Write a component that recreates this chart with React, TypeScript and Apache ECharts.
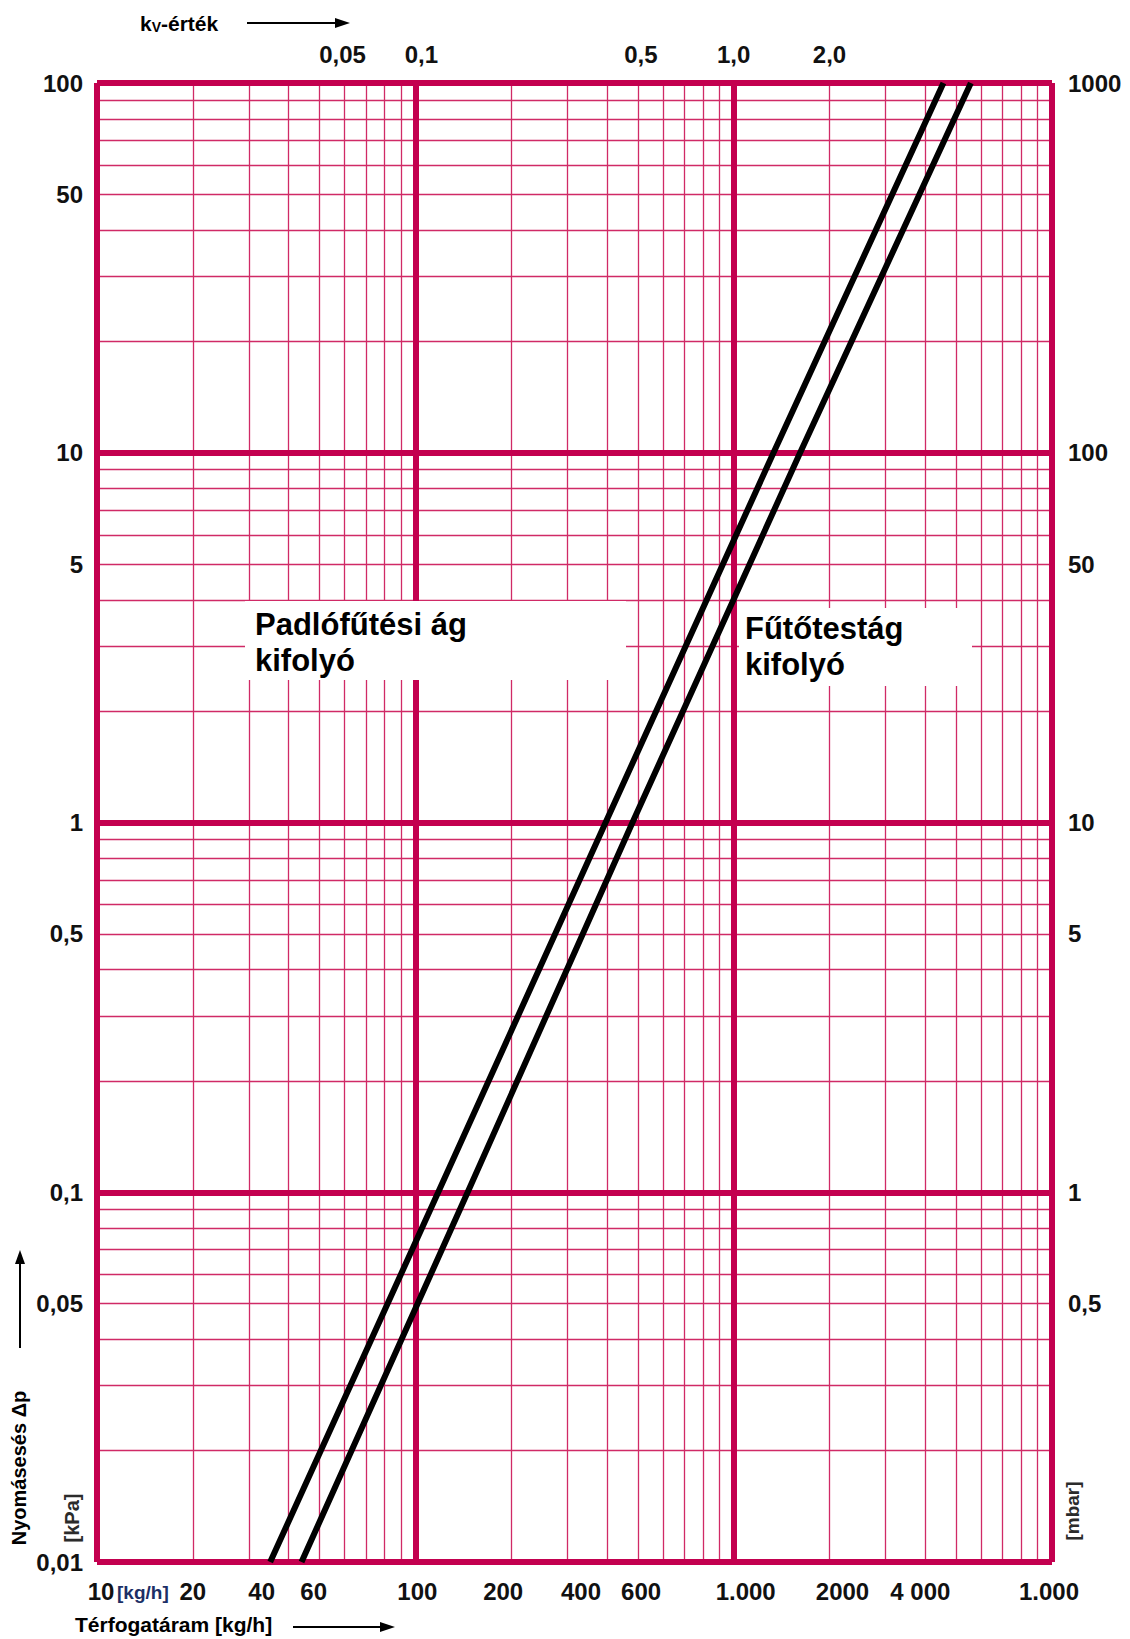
import React, { useEffect, useRef } from 'react';
import * as echarts from 'echarts';

// Tick values and their printed labels
const FLOW_TICKS = [10, 20, 40, 60, 100, 200, 400, 600, 1000, 2000, 4000, 10000];
const FLOW_LABELS = ['10', '20', '40', '60', '100', '200', '400', '600', '1.000', '2000', '4 000', '1.000'];
const KV_TICKS = [0.05, 0.1, 0.5, 1, 2];
const KV_LABELS = ['0,05', '0,1', '0,5', '1,0', '2,0'];
const KPA_TICKS = [0.01, 0.05, 0.1, 0.5, 1, 5, 10, 50, 100];
const KPA_LABELS = ['0,01', '0,05', '0,1', '0,5', '1', '5', '10', '50', '100'];
const MBAR_TICKS = [0.5, 1, 5, 10, 50, 100, 1000];
const MBAR_LABELS = ['0,5', '1', '5', '10', '50', '100', '1000'];

// Curves (flow kg/h vs pressure drop kPa)
const PADLO_FLOW = [35, 118, 396, 1334, 4560];
const PADLO_DP = [0.01, 0.1, 1, 10, 100];
const FUTO_FLOW = [43.9, 146, 481, 1617, 5560];
const FUTO_DP = [0.01, 0.1, 1, 10, 100];

// Grid line values
const X_DECADES = [10, 100, 1000];
const Y_DECADES = [0.01, 0.1, 1, 10];
const MINOR_STEPS = [2, 3, 4, 5, 6, 7, 8, 9];
const X_MAJOR = [10, 100, 1000, 10000];
const Y_MAJOR = [0.01, 0.1, 1, 10, 100];

// Styling: horizontal nudges (px) of printed tick labels, as in the original print
const FLOW_LABEL_NUDGE = [4, 0, -27, -31, 2, -8, -26, -22, 12, 13, -5, -3];
const KV_LABEL_NUDGE = [23, 6, 3, 0, 0];

const THICK = '#c3004f';
const THIN = '#d02a66';
const FONT = '"Liberation Sans", Arial, sans-serif';

function makeFormatter(ticks: number[], labels: string[], nudge?: number[]) {
  return (v: number) => {
    for (let i = 0; i < ticks.length; i++) {
      if (Math.abs(Math.log10(v) - Math.log10(ticks[i])) < 1e-6) {
        return nudge ? `{n${i}|${labels[i]}}` : labels[i];
      }
    }
    return '';
  };
}

function makeRich(nudge: number[], base: any) {
  const rich: any = {};
  nudge.forEach((s, i) => {
    const pad = s >= 0 ? [0, 0, 0, 2 * s] : [0, -2 * s, 0, 0];
    rich[`n${i}`] = { ...base, padding: pad };
  });
  return rich;
}

export default function App() {
  const ref = useRef<HTMLDivElement>(null);

  useEffect(() => {
    if (!ref.current) return;
    const chart = echarts.init(ref.current, null, { renderer: 'svg' });

    const minorX: number[] = [];
    X_DECADES.forEach((d) => MINOR_STEPS.forEach((m) => minorX.push(d * m)));
    const minorY: number[] = [];
    Y_DECADES.forEach((d) => MINOR_STEPS.forEach((m) => minorY.push(+(d * m).toPrecision(6))));

    const thinStyle = { color: THIN, width: 1.3, type: 'solid' as const };
    const thickStyle = { color: THICK, width: 6, type: 'solid' as const };

    const gridLines = [
      ...minorX.map((v) => ({ xAxis: v, lineStyle: thinStyle })),
      ...minorY.map((v) => ({ yAxis: v, lineStyle: thinStyle })),
      ...X_MAJOR.map((v) => ({ xAxis: v, lineStyle: thickStyle })),
      ...Y_MAJOR.map((v) => ({ yAxis: v, lineStyle: thickStyle })),
    ];

    const labelBase = {
      fontSize: 24,
      fontWeight: 'bold' as const,
      color: '#111',
      fontFamily: FONT,
    };

    const option: any = {
      animation: false,
      backgroundColor: '#fff',
      grid: { left: 97, right: 78, top: 83, bottom: 77, containLabel: false },
      xAxis: [
        {
          type: 'log',
          logBase: 10,
          min: 10,
          max: 10000,
          position: 'bottom',
          axisLine: { show: false },
          axisTick: { show: false },
          splitLine: { show: false },
          axisLabel: {
            ...labelBase,
            customValues: FLOW_TICKS,
            formatter: makeFormatter(FLOW_TICKS, FLOW_LABELS, FLOW_LABEL_NUDGE),
            rich: makeRich(FLOW_LABEL_NUDGE, labelBase),
            margin: 17,
          },
        },
        {
          type: 'log',
          logBase: 10,
          min: 0.01,
          max: 10,
          position: 'top',
          axisLine: { show: false },
          axisTick: { show: false },
          splitLine: { show: false },
          axisLabel: {
            ...labelBase,
            customValues: KV_TICKS,
            formatter: makeFormatter(KV_TICKS, KV_LABELS, KV_LABEL_NUDGE),
            rich: makeRich(KV_LABEL_NUDGE, labelBase),
            margin: 17,
          },
        },
      ],
      yAxis: [
        {
          type: 'log',
          logBase: 10,
          min: 0.01,
          max: 100,
          position: 'left',
          axisLine: { show: false },
          axisTick: { show: false },
          splitLine: { show: false },
          axisLabel: {
            ...labelBase,
            customValues: KPA_TICKS,
            formatter: makeFormatter(KPA_TICKS, KPA_LABELS),
            margin: 14,
          },
        },
        {
          type: 'log',
          logBase: 10,
          min: 0.1,
          max: 1000,
          position: 'right',
          axisLine: { show: false },
          axisTick: { show: false },
          splitLine: { show: false },
          axisLabel: {
            ...labelBase,
            customValues: MBAR_TICKS,
            formatter: makeFormatter(MBAR_TICKS, MBAR_LABELS),
            margin: 16,
          },
        },
      ],
      series: [
        {
          name: 'grid',
          type: 'line',
          xAxisIndex: 0,
          yAxisIndex: 0,
          data: [],
          z: 1,
          silent: true,
          markLine: {
            silent: true,
            z: 1,
            symbol: ['none', 'none'],
            label: { show: false },
            animation: false,
            data: gridLines,
          },
        },
        {
          name: 'Padlófűtési ág kifolyó',
          type: 'line',
          xAxisIndex: 0,
          yAxisIndex: 0,
          z: 3,
          symbol: 'none',
          lineStyle: { color: '#000', width: 6 },
          data: PADLO_FLOW.map((x, i) => [x, PADLO_DP[i]]),
        },
        {
          name: 'Fűtőtestág kifolyó',
          type: 'line',
          xAxisIndex: 0,
          yAxisIndex: 0,
          z: 3,
          symbol: 'none',
          lineStyle: { color: '#000', width: 6 },
          data: FUTO_FLOW.map((x, i) => [x, FUTO_DP[i]]),
        },
      ],
      graphic: [
        { type: 'rect', z: 2, silent: true, shape: { x: 245, y: 601, width: 381, height: 79 }, style: { fill: '#fff' } },
        {
          type: 'text', z: 4, x: 255, y: 606,
          style: { text: 'Padlófűtési ág\nkifolyó', font: `bold 31px ${FONT}`, fill: '#000', lineHeight: 36 },
        },
        { type: 'rect', z: 2, silent: true, shape: { x: 739, y: 608, width: 233, height: 78 }, style: { fill: '#fff' } },
        {
          type: 'text', z: 4, x: 745, y: 610,
          style: { text: 'Fűtőtestág\nkifolyó', font: `bold 31px ${FONT}`, fill: '#000', lineHeight: 36 },
        },
        // top kv title
        {
          type: 'text', z: 4, x: 140, y: 23,
          style: {
            text: '{k|k}{s|V}{k|-érték}',
            verticalAlign: 'middle',
            rich: {
              k: { fontSize: 21, fontWeight: 'bold', fontFamily: FONT, color: '#000' },
              s: { fontSize: 14, fontWeight: 'bold', fontFamily: FONT, color: '#000', padding: [8, 0, 0, 0] },
            },
          },
        },
        { type: 'line', z: 4, shape: { x1: 247, y1: 23, x2: 340, y2: 23 }, style: { stroke: '#000', lineWidth: 2 } },
        { type: 'polygon', z: 4, shape: { points: [[350, 23], [335, 18], [335, 28]] }, style: { fill: '#000' } },
        // bottom title
        {
          type: 'text', z: 4, x: 75, y: 1624,
          style: { text: 'Térfogatáram [kg/h]', font: `bold 21px ${FONT}`, fill: '#000', verticalAlign: 'middle' },
        },
        { type: 'line', z: 4, shape: { x1: 293, y1: 1627, x2: 385, y2: 1627 }, style: { stroke: '#000', lineWidth: 2 } },
        { type: 'polygon', z: 4, shape: { points: [[395, 1627], [380, 1622], [380, 1632]] }, style: { fill: '#000' } },
        // [kg/h] next to 10
        {
          type: 'text', z: 4, x: 117, y: 1592,
          style: { text: '[kg/h]', font: `bold 19px ${FONT}`, fill: '#1c2f66', verticalAlign: 'middle' },
        },
        // left vertical title
        {
          type: 'text', z: 4, x: 19, y: 1468, rotation: Math.PI / 2,
          style: { text: 'Nyomásesés Δp', font: `bold 20px ${FONT}`, fill: '#000', align: 'center', verticalAlign: 'middle' },
        },
        { type: 'line', z: 4, shape: { x1: 20, y1: 1348, x2: 20, y2: 1262 }, style: { stroke: '#000', lineWidth: 2 } },
        { type: 'polygon', z: 4, shape: { points: [[20, 1250], [15, 1264], [25, 1264]] }, style: { fill: '#000' } },
        {
          type: 'text', z: 4, x: 72, y: 1518, rotation: Math.PI / 2,
          style: { text: '[kPa]', font: `bold 20px ${FONT}`, fill: '#2b2b2b', align: 'center', verticalAlign: 'middle' },
        },
        {
          type: 'text', z: 4, x: 1072, y: 1511, rotation: Math.PI / 2,
          style: { text: '[mbar]', font: `bold 19px ${FONT}`, fill: '#2b2b2b', align: 'center', verticalAlign: 'middle' },
        },
      ],
    };

    chart.setOption(option);
    return () => chart.dispose();
  }, []);

  return (
    <div
      ref={ref}
      style={{ position: 'absolute', left: 0, top: 0, width: 1130, height: 1639, background: '#fff' }}
    />
  );
}
